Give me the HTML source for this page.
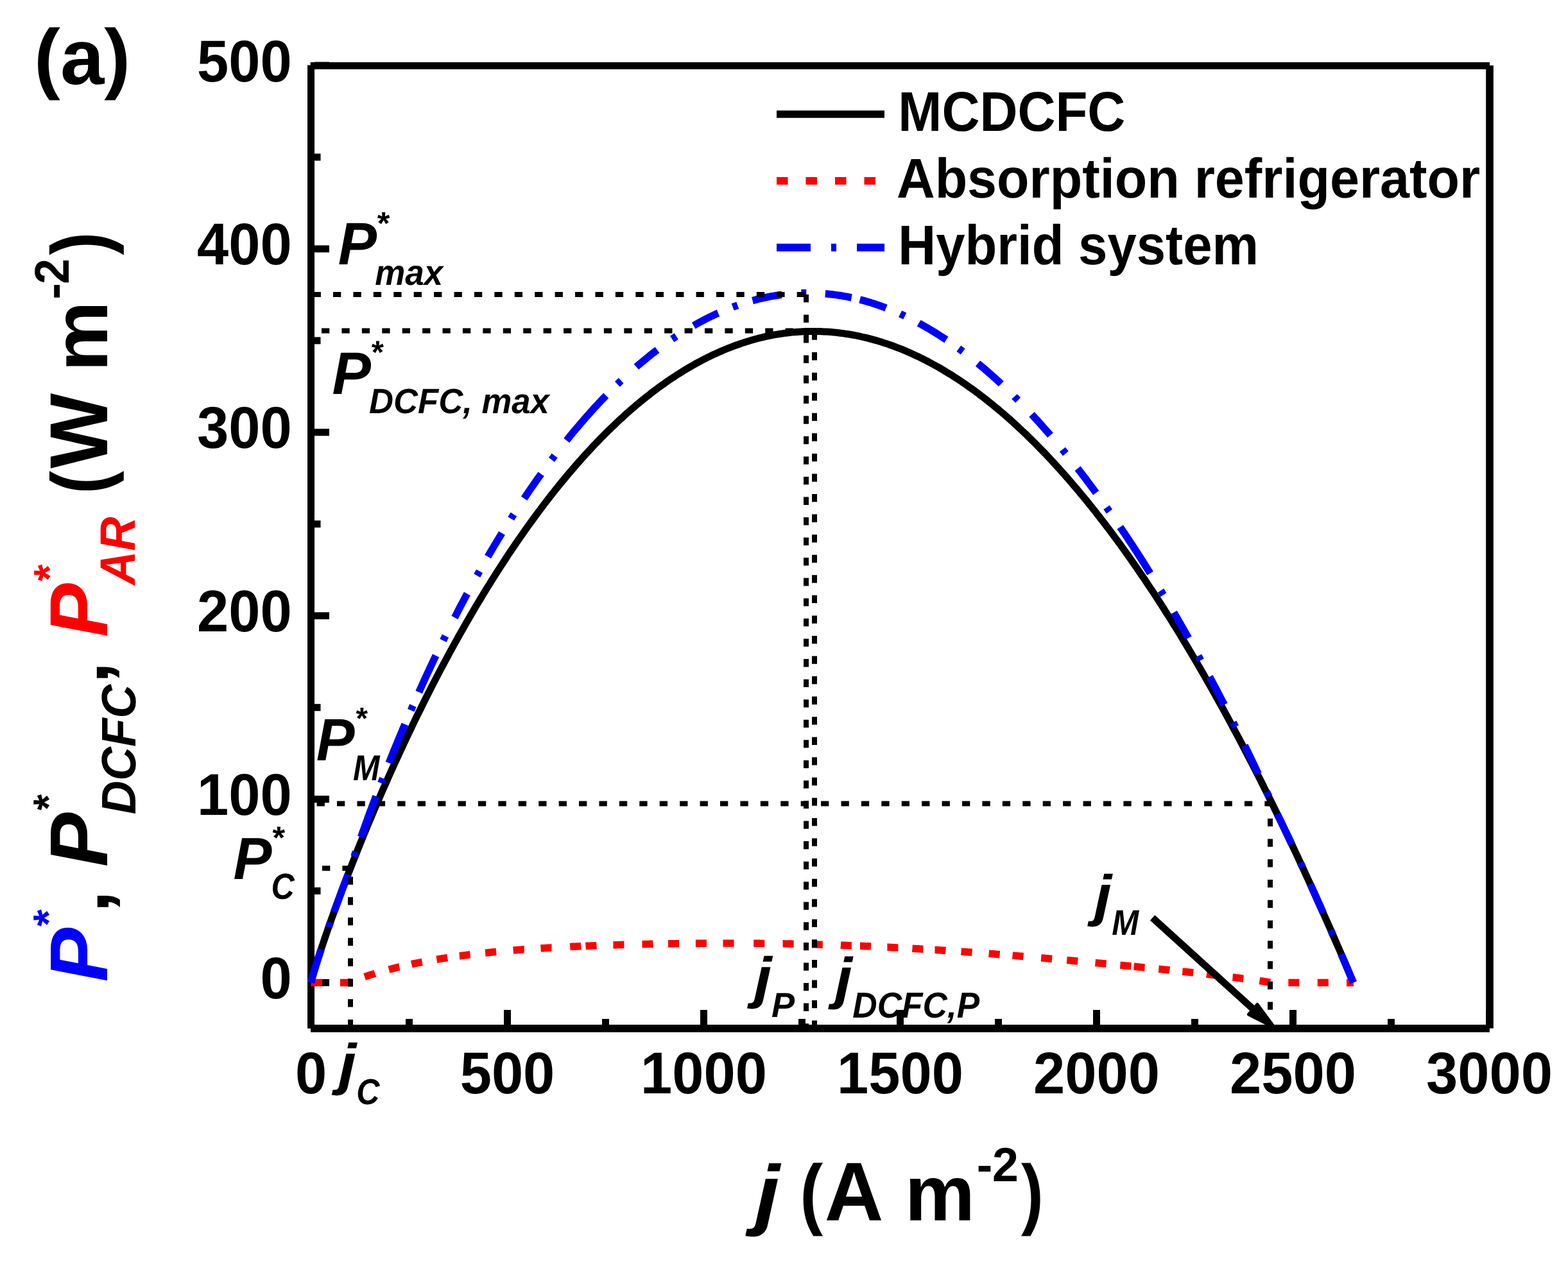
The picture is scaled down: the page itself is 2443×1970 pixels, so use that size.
<!DOCTYPE html><html><head><meta charset="utf-8"><title>Power density vs current density</title><style>html,body{margin:0;padding:0;background:#fff;}svg{display:block;}text{font-kerning:none;}</style></head><body>
<svg width="2443" height="1970" viewBox="0 0 2443 1970" font-family="Liberation Sans, Arial, Helvetica, sans-serif" font-weight="bold" text-rendering="geometricPrecision">
<rect width="2443" height="1970" fill="#fff"/>
<g stroke="#000" fill="none" stroke-linecap="butt">
<line x1="484.5" y1="101.5" x2="484.5" y2="1603" stroke-width="11"/>
<line x1="483.7" y1="102.5" x2="2321" y2="102.5" stroke-width="11"/>
<line x1="2321" y1="102" x2="2321" y2="1602.7" stroke-width="11.7"/>
<line x1="484" y1="1602.85" x2="2320.9" y2="1602.85" stroke-width="11.7"/>
<line x1="490" y1="1531.50" x2="513" y2="1531.50" stroke-width="11"/>
<line x1="490" y1="1245.60" x2="513" y2="1245.60" stroke-width="11"/>
<line x1="490" y1="959.70" x2="513" y2="959.70" stroke-width="11"/>
<line x1="490" y1="673.80" x2="513" y2="673.80" stroke-width="11"/>
<line x1="490" y1="387.90" x2="513" y2="387.90" stroke-width="11"/>
<line x1="490" y1="102.00" x2="513" y2="102.00" stroke-width="11"/>
<line x1="490" y1="1388.55" x2="499.5" y2="1388.55" stroke-width="11"/>
<line x1="490" y1="1102.65" x2="499.5" y2="1102.65" stroke-width="11"/>
<line x1="490" y1="816.75" x2="499.5" y2="816.75" stroke-width="11"/>
<line x1="490" y1="530.85" x2="499.5" y2="530.85" stroke-width="11"/>
<line x1="490" y1="244.95" x2="499.5" y2="244.95" stroke-width="11"/>
<line x1="484.50" y1="1597" x2="484.50" y2="1574" stroke-width="11"/>
<line x1="790.50" y1="1597" x2="790.50" y2="1574" stroke-width="11"/>
<line x1="1096.50" y1="1597" x2="1096.50" y2="1574" stroke-width="11"/>
<line x1="1402.50" y1="1597" x2="1402.50" y2="1574" stroke-width="11"/>
<line x1="1708.50" y1="1597" x2="1708.50" y2="1574" stroke-width="11"/>
<line x1="2014.50" y1="1597" x2="2014.50" y2="1574" stroke-width="11"/>
<line x1="2320.50" y1="1597" x2="2320.50" y2="1574" stroke-width="11"/>
<line x1="637.50" y1="1597" x2="637.50" y2="1588" stroke-width="11"/>
<line x1="943.50" y1="1597" x2="943.50" y2="1588" stroke-width="11"/>
<line x1="1249.50" y1="1597" x2="1249.50" y2="1588" stroke-width="11"/>
<line x1="1555.50" y1="1597" x2="1555.50" y2="1588" stroke-width="11"/>
<line x1="1861.50" y1="1597" x2="1861.50" y2="1588" stroke-width="11"/>
<line x1="2167.50" y1="1597" x2="2167.50" y2="1588" stroke-width="11"/>
</g>
<text transform="translate(405.41,1556.00) scale(1,1.037)" font-size="88.5">0</text>
<text transform="translate(306.97,1270.10) scale(1,1.037)" font-size="88.5">100</text>
<text transform="translate(306.97,984.20) scale(1,1.037)" font-size="88.5">200</text>
<text transform="translate(306.97,698.30) scale(1,1.037)" font-size="88.5">300</text>
<text transform="translate(306.97,412.40) scale(1,1.037)" font-size="88.5">400</text>
<text transform="translate(306.97,126.50) scale(1,1.037)" font-size="88.5">500</text>
<text transform="translate(484.50,1704) scale(1,1.037)" font-size="88.5" text-anchor="middle">0</text>
<text transform="translate(790.50,1704) scale(1,1.037)" font-size="88.5" text-anchor="middle">500</text>
<text transform="translate(1096.50,1704) scale(1,1.037)" font-size="88.5" text-anchor="middle">1000</text>
<text transform="translate(1402.50,1704) scale(1,1.037)" font-size="88.5" text-anchor="middle">1500</text>
<text transform="translate(1708.50,1704) scale(1,1.037)" font-size="88.5" text-anchor="middle">2000</text>
<text transform="translate(2014.50,1704) scale(1,1.037)" font-size="88.5" text-anchor="middle">2500</text>
<text transform="translate(2320.50,1704) scale(1,1.037)" font-size="88.5" text-anchor="middle">3000</text>
<path d="M484.5,1531.5 485.7,1526.7 486.9,1522.3 488.2,1518.0 489.4,1513.9 490.6,1509.8 491.8,1505.8 493.1,1501.9 494.3,1498.0 495.5,1494.2 496.7,1490.4 498.0,1486.6 499.2,1482.8 500.4,1479.1 501.6,1475.4 502.9,1471.8 504.1,1468.1 505.3,1464.5 506.5,1460.9 507.8,1457.3 509.0,1453.8 510.2,1450.2 511.4,1446.7 512.7,1443.2 513.9,1439.7 515.1,1436.3 516.3,1432.8 517.5,1429.4 518.8,1426.0 520.0,1422.6 521.2,1419.2 524.3,1410.8 528.0,1400.8 531.6,1390.9 535.3,1381.1 539.0,1371.5 542.6,1361.9 546.3,1352.4 550.0,1343.0 553.7,1333.7 557.3,1324.5 561.0,1315.4 564.7,1306.3 568.3,1297.4 572.0,1288.5 575.7,1279.7 579.4,1270.9 583.0,1262.2 586.7,1253.6 590.4,1245.1 594.0,1236.6 597.7,1228.2 601.4,1219.9 605.1,1211.6 608.7,1203.4 612.4,1195.3 616.1,1187.2 619.8,1179.2 623.4,1171.2 627.1,1163.3 630.8,1155.5 634.4,1147.7 638.1,1140.0 641.8,1132.3 645.5,1124.7 649.1,1117.2 652.8,1109.7 656.5,1102.3 660.1,1094.9 663.8,1087.6 667.5,1080.3 671.2,1073.1 674.8,1065.9 678.5,1058.8 682.2,1051.8 685.8,1044.8 689.5,1037.9 693.2,1031.0 696.9,1024.1 700.5,1017.3 704.2,1010.6 707.9,1003.9 711.6,997.3 715.2,990.7 718.9,984.2 722.6,977.7 726.2,971.3 729.9,964.9 733.6,958.6 737.3,952.3 740.9,946.1 744.6,939.9 748.3,933.8 751.9,927.7 755.6,921.7 759.3,915.7 763.0,909.8 766.6,903.9 770.3,898.1 774.0,892.3 777.6,886.6 781.3,880.9 785.0,875.2 788.7,869.6 792.3,864.1 796.0,858.6 799.7,853.1 803.4,847.7 807.0,842.4 810.7,837.1 814.4,831.8 818.0,826.6 821.7,821.4 825.4,816.3 829.1,811.2 832.7,806.2 836.4,801.2 840.1,796.3 843.7,791.4 847.4,786.5 851.1,781.7 854.8,776.9 858.4,772.2 862.1,767.6 865.8,762.9 869.4,758.4 873.1,753.8 876.8,749.4 880.5,744.9 884.1,740.5 887.8,736.2 891.5,731.9 895.2,727.6 898.8,723.4 902.5,719.2 906.2,715.1 909.8,711.0 913.5,706.9 917.2,702.9 920.9,699.0 924.5,695.1 928.2,691.2 931.9,687.4 935.5,683.6 939.2,679.9 942.9,676.2 946.6,672.5 950.2,668.9 953.9,665.4 957.6,661.9 961.2,658.4 964.9,654.9 968.6,651.6 972.3,648.2 975.9,644.9 979.6,641.7 983.3,638.4 987.0,635.3 990.6,632.1 994.3,629.1 998.0,626.0 1001.6,623.0 1005.3,620.1 1009.0,617.1 1012.7,614.3 1016.3,611.4 1020.0,608.6 1023.7,605.9 1027.3,603.2 1031.0,600.5 1034.7,597.9 1038.4,595.3 1042.0,592.8 1045.7,590.3 1049.4,587.9 1053.0,585.4 1056.7,583.1 1060.4,580.8 1064.1,578.5 1067.7,576.2 1071.4,574.0 1075.1,571.9 1078.8,569.8 1082.4,567.7 1086.1,565.7 1089.8,563.7 1093.4,561.7 1097.1,559.8 1100.8,557.9 1104.5,556.1 1108.1,554.3 1111.8,552.6 1115.5,550.9 1119.1,549.2 1122.8,547.6 1126.5,546.0 1130.2,544.5 1133.8,543.0 1137.5,541.6 1141.2,540.2 1144.8,538.8 1148.5,537.5 1152.2,536.2 1155.9,534.9 1159.5,533.7 1163.2,532.5 1166.9,531.4 1170.6,530.3 1174.2,529.3 1177.9,528.3 1181.6,527.3 1185.2,526.4 1188.9,525.5 1192.6,524.7 1196.3,523.9 1199.9,523.1 1203.6,522.4 1207.3,521.7 1210.9,521.1 1214.6,520.5 1218.3,520.0 1222.0,519.4 1225.6,519.0 1229.3,518.5 1233.0,518.1 1236.6,517.8 1240.3,517.5 1244.0,517.2 1247.7,517.0 1251.3,516.8 1255.0,516.6 1258.7,516.5 1262.4,516.4 1266.0,516.4 1269.7,516.4 1273.4,516.5 1277.0,516.6 1280.7,516.7 1284.4,516.9 1288.1,517.1 1291.7,517.3 1295.4,517.6 1299.1,517.9 1302.7,518.3 1306.4,518.7 1310.1,519.2 1313.8,519.6 1317.4,520.2 1321.1,520.7 1324.8,521.3 1328.4,522.0 1332.1,522.7 1335.8,523.4 1339.5,524.2 1343.1,525.0 1346.8,525.8 1350.5,526.7 1354.2,527.6 1357.8,528.6 1361.5,529.6 1365.2,530.6 1368.8,531.7 1372.5,532.8 1376.2,534.0 1379.9,535.2 1383.5,536.4 1387.2,537.7 1390.9,539.0 1394.5,540.4 1398.2,541.8 1401.9,543.2 1405.6,544.7 1409.2,546.2 1412.9,547.8 1416.6,549.4 1420.2,551.0 1423.9,552.7 1427.6,554.4 1431.3,556.1 1434.9,557.9 1438.6,559.7 1442.3,561.6 1446.0,563.5 1449.6,565.5 1453.3,567.5 1457.0,569.5 1460.6,571.5 1464.3,573.6 1468.0,575.8 1471.7,578.0 1475.3,580.2 1479.0,582.4 1482.7,584.7 1486.3,587.1 1490.0,589.4 1493.7,591.8 1497.4,594.3 1501.0,596.8 1504.7,599.3 1508.4,601.9 1512.0,604.5 1515.7,607.1 1519.4,609.8 1523.1,612.5 1526.7,615.3 1530.4,618.1 1534.1,620.9 1537.8,623.8 1541.4,626.7 1545.1,629.7 1548.8,632.7 1552.4,635.7 1556.1,638.8 1559.8,641.9 1563.5,645.0 1567.1,648.2 1570.8,651.4 1574.5,654.7 1578.1,658.0 1581.8,661.3 1585.5,664.7 1589.2,668.1 1592.8,671.6 1596.5,675.1 1600.2,678.6 1603.8,682.2 1607.5,685.8 1611.2,689.4 1614.9,693.1 1618.5,696.8 1622.2,700.6 1625.9,704.4 1629.6,708.2 1633.2,712.1 1636.9,716.0 1640.6,720.0 1644.2,724.0 1647.9,728.0 1651.6,732.1 1655.3,736.2 1658.9,740.3 1662.6,744.5 1666.3,748.7 1669.9,753.0 1673.6,757.3 1677.3,761.6 1681.0,766.0 1684.6,770.4 1688.3,774.8 1692.0,779.3 1695.6,783.8 1699.3,788.4 1703.0,793.0 1706.7,797.6 1710.3,802.3 1714.0,807.0 1717.7,811.8 1721.4,816.5 1725.0,821.4 1728.7,826.2 1732.4,831.1 1736.0,836.1 1739.7,841.1 1743.4,846.1 1747.1,851.1 1750.7,856.2 1754.4,861.3 1758.1,866.5 1761.7,871.7 1765.4,877.0 1769.1,882.2 1772.8,887.6 1776.4,892.9 1780.1,898.3 1783.8,903.7 1787.4,909.2 1791.1,914.7 1794.8,920.2 1798.5,925.8 1802.1,931.4 1805.8,937.1 1809.5,942.8 1813.2,948.5 1816.8,954.3 1820.5,960.1 1824.2,965.9 1827.8,971.8 1831.5,977.7 1835.2,983.7 1838.9,989.7 1842.5,995.7 1846.2,1001.8 1849.9,1007.9 1853.5,1014.0 1857.2,1020.2 1860.9,1026.4 1864.6,1032.7 1868.2,1039.0 1871.9,1045.3 1875.6,1051.7 1879.2,1058.1 1882.9,1064.5 1886.6,1071.0 1890.3,1077.5 1893.9,1084.1 1897.6,1090.7 1901.3,1097.3 1905.0,1103.9 1908.6,1110.6 1912.3,1117.4 1916.0,1124.2 1919.6,1131.0 1923.3,1137.8 1927.0,1144.7 1930.7,1151.6 1934.3,1158.6 1938.0,1165.6 1941.7,1172.6 1945.3,1179.7 1949.0,1186.8 1952.7,1194.0 1956.4,1201.2 1960.0,1208.4 1963.7,1215.6 1967.4,1222.9 1971.0,1230.3 1974.7,1237.6 1978.4,1245.1 1982.1,1252.5 1985.7,1260.0 1989.4,1267.5 1993.1,1275.1 1996.8,1282.6 2000.4,1290.3 2004.1,1297.9 2007.8,1305.6 2011.4,1313.4 2015.1,1321.2 2018.8,1329.0 2022.5,1336.8 2026.1,1344.7 2029.8,1352.6 2033.5,1360.6 2037.1,1368.6 2040.8,1376.6 2044.5,1384.7 2048.2,1392.8 2051.8,1401.0 2055.5,1409.1 2059.2,1417.4 2062.8,1425.6 2066.5,1433.9 2070.2,1442.2 2073.9,1450.6 2077.5,1459.0 2081.2,1467.5 2084.9,1475.9 2088.6,1484.4 2092.2,1493.0 2095.9,1501.6 2099.6,1510.2 2103.2,1518.9 2106.9,1527.6 2108.6,1531.5" fill="none" stroke="#000" stroke-width="11" stroke-linejoin="round"/>
<path d="M484.5,1531.5 485.7,1531.5 486.8,1531.5 488.0,1531.5 489.2,1531.5 490.3,1531.5 491.5,1531.5 492.7,1531.5 493.8,1531.5 495.0,1531.5 496.2,1531.5 497.3,1531.5 498.5,1531.5 499.7,1531.5 500.8,1531.5 502.0,1531.5 M530.0,1531.5 531.2,1531.5 532.4,1531.5 533.6,1531.5 534.9,1531.5 536.1,1531.5 537.3,1531.5 538.5,1531.5 539.7,1531.5 540.9,1531.5 542.1,1531.5 543.4,1531.5 544.6,1531.5 545.8,1530.2 547.0,1529.8 M2098.0,1531.5 2099.2,1531.5 2100.4,1531.5 2101.7,1531.5 2102.9,1531.5 2104.1,1531.5 2105.3,1531.5 2106.6,1531.5 2107.8,1531.5 2109.0,1531.5 M568.1,1522.3 569.3,1521.9 570.4,1521.6 571.6,1521.2 572.7,1520.8 573.9,1520.4 575.1,1520.1 576.2,1519.7 577.4,1519.3 578.5,1519.0 579.7,1518.6 580.8,1518.3 582.0,1517.9 583.2,1517.6 584.3,1517.2 M605.9,1511.1 607.0,1510.8 608.2,1510.5 609.4,1510.2 610.6,1509.9 611.8,1509.6 612.9,1509.3 614.1,1509.0 615.3,1508.7 616.5,1508.4 617.6,1508.1 618.8,1507.8 620.0,1507.5 621.2,1507.2 622.4,1507.0 M641.2,1502.7 642.4,1502.4 643.6,1502.2 644.7,1501.9 645.9,1501.7 647.1,1501.5 648.3,1501.2 649.5,1501.0 650.7,1500.7 651.9,1500.5 653.1,1500.3 654.3,1500.0 655.5,1499.8 656.6,1499.5 657.8,1499.3 M680.4,1495.3 681.6,1495.1 682.8,1494.9 684.0,1494.7 685.2,1494.5 686.4,1494.3 687.6,1494.1 688.8,1493.9 690.0,1493.7 691.2,1493.5 692.4,1493.3 693.6,1493.1 694.8,1492.9 696.0,1492.8 697.2,1492.6 M715.8,1489.9 717.0,1489.8 718.2,1489.6 719.4,1489.4 720.6,1489.3 721.8,1489.1 723.0,1489.0 724.2,1488.8 725.4,1488.7 726.6,1488.5 727.8,1488.4 729.0,1488.2 730.2,1488.1 731.4,1487.9 732.6,1487.8 M756.1,1485.1 757.4,1485.0 758.6,1484.8 759.8,1484.7 761.0,1484.6 762.2,1484.5 763.4,1484.3 764.6,1484.2 765.8,1484.1 767.0,1484.0 768.2,1483.9 769.4,1483.7 770.6,1483.6 771.9,1483.5 773.1,1483.4 M799.6,1481.1 800.8,1481.0 802.0,1480.9 803.3,1480.8 804.5,1480.7 805.7,1480.6 806.9,1480.5 808.1,1480.4 809.3,1480.3 810.5,1480.2 811.7,1480.1 812.9,1480.0 814.2,1479.9 815.4,1479.8 816.6,1479.8 M842.5,1478.0 843.7,1477.9 844.9,1477.8 846.2,1477.8 847.4,1477.7 848.6,1477.6 849.8,1477.5 851.0,1477.5 852.2,1477.4 853.4,1477.3 854.6,1477.3 855.8,1477.2 857.1,1477.1 858.3,1477.0 859.5,1477.0 M888.2,1475.5 889.4,1475.4 890.6,1475.4 891.8,1475.3 893.1,1475.2 894.3,1475.2 895.5,1475.1 896.7,1475.1 897.9,1475.0 899.1,1475.0 900.3,1474.9 901.6,1474.9 902.8,1474.8 904.0,1474.8 905.2,1474.7 M912.5,1474.4 913.7,1474.3 914.9,1474.3 916.1,1474.2 917.4,1474.2 918.6,1474.1 919.8,1474.1 921.0,1474.0 922.2,1474.0 923.4,1474.0 924.6,1473.9 925.9,1473.9 927.1,1473.8 928.3,1473.8 929.5,1473.7 M955.4,1472.8 956.6,1472.8 957.8,1472.7 959.0,1472.7 960.3,1472.7 961.5,1472.6 962.7,1472.6 963.9,1472.6 965.1,1472.5 966.3,1472.5 967.5,1472.5 968.8,1472.4 970.0,1472.4 971.2,1472.3 972.4,1472.3 M1000.5,1471.6 1001.7,1471.6 1002.9,1471.5 1004.1,1471.5 1005.4,1471.5 1006.6,1471.5 1007.8,1471.4 1009.0,1471.4 1010.2,1471.4 1011.4,1471.4 1012.6,1471.3 1013.9,1471.3 1015.1,1471.3 1016.3,1471.3 1017.5,1471.2 M1041.0,1470.8 1042.2,1470.8 1043.4,1470.8 1044.6,1470.8 1045.9,1470.7 1047.1,1470.7 1048.3,1470.7 1049.5,1470.7 1050.7,1470.7 1051.9,1470.6 1053.1,1470.6 1054.4,1470.6 1055.6,1470.6 1056.8,1470.6 1058.0,1470.6 M1083.9,1470.3 1085.1,1470.3 1086.3,1470.3 1087.5,1470.3 1088.8,1470.3 1090.0,1470.2 1091.2,1470.2 1092.4,1470.2 1093.6,1470.2 1094.8,1470.2 1096.0,1470.2 1097.3,1470.2 1098.5,1470.2 1099.7,1470.2 1100.9,1470.2 M1126.5,1470.1 1127.7,1470.1 1128.9,1470.1 1130.1,1470.1 1131.4,1470.1 1132.6,1470.1 1133.8,1470.1 1135.0,1470.1 1136.2,1470.1 1137.4,1470.1 1138.6,1470.1 1139.9,1470.1 1141.1,1470.1 1142.3,1470.1 1143.5,1470.1 M1174.2,1470.3 1175.4,1470.3 1176.6,1470.3 1177.8,1470.3 1179.1,1470.3 1180.3,1470.3 1181.5,1470.3 1182.7,1470.3 1183.9,1470.3 1185.1,1470.4 1186.3,1470.4 1187.6,1470.4 1188.8,1470.4 1190.0,1470.4 1191.2,1470.4 M1219.6,1470.8 1220.8,1470.8 1222.0,1470.9 1223.2,1470.9 1224.5,1470.9 1225.7,1470.9 1226.9,1470.9 1228.1,1471.0 1229.3,1471.0 1230.5,1471.0 1231.7,1471.0 1233.0,1471.1 1234.2,1471.1 1235.4,1471.1 1236.6,1471.1 M1264.8,1471.8 1266.0,1471.8 1267.2,1471.8 1268.4,1471.9 1269.7,1471.9 1270.9,1471.9 1272.1,1472.0 1273.3,1472.0 1274.5,1472.0 1275.7,1472.1 1276.9,1472.1 1278.2,1472.1 1279.4,1472.2 1280.6,1472.2 1281.8,1472.2 M1309.9,1473.1 1311.1,1473.2 1312.3,1473.2 1313.5,1473.3 1314.8,1473.3 1316.0,1473.3 1317.2,1473.4 1318.4,1473.4 1319.6,1473.5 1320.8,1473.5 1322.0,1473.6 1323.3,1473.6 1324.5,1473.6 1325.7,1473.7 1326.9,1473.7 M1340.0,1474.3 1341.2,1474.3 1342.4,1474.4 1343.6,1474.4 1344.9,1474.5 1346.1,1474.5 1347.3,1474.6 1348.5,1474.6 1349.7,1474.7 1350.9,1474.7 1352.1,1474.8 1353.4,1474.8 1354.6,1474.9 1355.8,1474.9 1357.0,1475.0 M1382.4,1476.2 1383.6,1476.2 1384.8,1476.3 1386.0,1476.4 1387.3,1476.4 1388.5,1476.5 1389.7,1476.5 1390.9,1476.6 1392.1,1476.7 1393.3,1476.7 1394.5,1476.8 1395.8,1476.9 1397.0,1476.9 1398.2,1477.0 1399.4,1477.0 M1421.4,1478.2 1422.6,1478.3 1423.8,1478.4 1425.1,1478.5 1426.3,1478.5 1427.5,1478.6 1428.7,1478.7 1429.9,1478.7 1431.1,1478.8 1432.3,1478.9 1433.5,1479.0 1434.7,1479.0 1436.0,1479.1 1437.2,1479.2 1438.4,1479.2 M1456.5,1480.4 1457.7,1480.4 1458.9,1480.5 1460.2,1480.6 1461.4,1480.7 1462.6,1480.7 1463.8,1480.8 1465.0,1480.9 1466.2,1481.0 1467.4,1481.1 1468.6,1481.1 1469.8,1481.2 1471.1,1481.3 1472.3,1481.4 1473.5,1481.5 M1497.5,1483.1 1498.7,1483.2 1499.9,1483.3 1501.2,1483.4 1502.4,1483.4 1503.6,1483.5 1504.8,1483.6 1506.0,1483.7 1507.2,1483.8 1508.4,1483.9 1509.6,1484.0 1510.8,1484.0 1512.1,1484.1 1513.3,1484.2 1514.5,1484.3 M1540.7,1486.3 1541.9,1486.4 1543.1,1486.5 1544.4,1486.5 1545.6,1486.6 1546.8,1486.7 1548.0,1486.8 1549.2,1486.9 1550.4,1487.0 1551.6,1487.1 1552.8,1487.2 1554.0,1487.3 1555.3,1487.4 1556.5,1487.5 1557.7,1487.6 M1577.5,1489.2 1578.7,1489.3 1579.9,1489.4 1581.2,1489.5 1582.4,1489.6 1583.6,1489.7 1584.8,1489.8 1586.0,1489.9 1587.2,1490.0 1588.4,1490.1 1589.6,1490.2 1590.8,1490.3 1592.1,1490.4 1593.3,1490.5 1594.5,1490.6 M1622.1,1492.9 1623.3,1493.0 1624.6,1493.1 1625.8,1493.2 1627.0,1493.3 1628.2,1493.4 1629.4,1493.6 1630.6,1493.7 1631.8,1493.8 1633.0,1493.9 1634.2,1494.0 1635.4,1494.1 1636.6,1494.2 1637.9,1494.3 1639.1,1494.4 M1662.2,1496.5 1663.4,1496.6 1664.7,1496.7 1665.9,1496.8 1667.1,1496.9 1668.3,1497.0 1669.5,1497.1 1670.7,1497.2 1671.9,1497.3 1673.1,1497.4 1674.3,1497.6 1675.5,1497.7 1676.7,1497.8 1678.0,1497.9 1679.2,1498.0 M1706.5,1500.5 1707.7,1500.6 1709.0,1500.8 1710.2,1500.9 1711.4,1501.0 1712.6,1501.1 1713.8,1501.2 1715.0,1501.3 1716.2,1501.4 1717.4,1501.6 1718.6,1501.7 1719.8,1501.8 1721.0,1501.9 1722.3,1502.0 1723.5,1502.1 M1745.3,1504.2 1746.5,1504.3 1747.8,1504.5 1749.0,1504.6 1750.2,1504.7 1751.4,1504.8 1752.6,1504.9 1753.8,1505.1 1755.0,1505.2 1756.2,1505.3 1757.4,1505.4 1758.6,1505.5 1759.8,1505.6 1761.1,1505.8 1762.3,1505.9 M1766.5,1506.3 1767.7,1506.4 1769.0,1506.5 1770.2,1506.7 1771.4,1506.8 1772.6,1506.9 1773.8,1507.0 1775.0,1507.1 1776.2,1507.3 1777.4,1507.4 1778.6,1507.5 1779.8,1507.6 1781.0,1507.7 1782.2,1507.9 1783.5,1508.0 M1805.3,1510.2 1806.6,1510.3 1807.8,1510.5 1809.0,1510.6 1810.2,1510.7 1811.4,1510.8 1812.6,1511.0 1813.8,1511.1 1815.0,1511.2 1816.2,1511.3 1817.4,1511.5 1818.6,1511.6 1819.8,1511.7 1821.0,1511.8 1822.3,1512.0 M1842.3,1514.1 1843.6,1514.2 1844.8,1514.3 1846.0,1514.5 1847.2,1514.6 1848.4,1514.7 1849.6,1514.9 1850.8,1515.0 1852.0,1515.1 1853.2,1515.3 1854.4,1515.4 1855.6,1515.5 1856.8,1515.7 1858.0,1515.8 1859.2,1515.9 M1880.0,1518.2 1881.2,1518.4 1882.4,1518.5 1883.6,1518.7 1884.8,1518.8 1886.0,1518.9 1887.2,1519.1 1888.4,1519.2 1889.6,1519.4 1890.8,1519.5 1892.0,1519.6 1893.2,1519.8 1894.4,1519.9 1895.6,1520.1 1896.8,1520.2 M1920.5,1523.1 1921.7,1523.2 1922.9,1523.4 1924.1,1523.5 1925.3,1523.7 1926.5,1523.8 1927.7,1524.0 1928.9,1524.1 1930.1,1524.3 1931.3,1524.4 1932.5,1524.6 1933.7,1524.8 1934.9,1524.9 1936.1,1525.1 1937.3,1525.2 M1962.4,1528.6 1963.6,1528.8 1964.8,1528.9 1965.9,1529.1 1967.1,1529.3 1968.3,1529.4 1969.5,1529.6 1970.7,1529.8 1971.9,1530.0 1973.1,1530.1 1974.2,1530.3 1975.4,1530.5 1976.6,1530.7 1977.8,1530.8 1979.0,1531.0 M2007.3,1531.5 2008.5,1531.5 2009.7,1531.5 2010.9,1531.5 2012.2,1531.5 2013.4,1531.5 2014.6,1531.5 2015.8,1531.5 2017.0,1531.5 2018.2,1531.5 2019.4,1531.5 2020.7,1531.5 2021.9,1531.5 2023.1,1531.5 2024.3,1531.5 M2052.8,1531.5 2054.0,1531.5 2055.2,1531.5 2056.4,1531.5 2057.7,1531.5 2058.9,1531.5 2060.1,1531.5 2061.3,1531.5 2062.5,1531.5 2063.7,1531.5 2064.9,1531.5 2066.2,1531.5 2067.4,1531.5 2068.6,1531.5 2069.8,1531.5" fill="none" stroke="#f00" stroke-width="11.4" stroke-linecap="butt"/>
<path d="M484.5,1531.5 485.7,1526.7 486.9,1522.3 488.1,1518.1 489.4,1514.0 490.6,1510.0 491.8,1506.0 493.0,1502.1 494.2,1498.2 495.4,1494.4 496.7,1490.6 497.9,1486.9 499.1,1483.1 500.3,1479.5 M520.4,1421.4 521.6,1418.1 522.8,1414.8 524.0,1411.4 525.2,1408.1 526.5,1404.8 527.7,1401.5 528.9,1398.3 530.1,1395.0 531.3,1391.8 532.5,1388.5 533.7,1385.3 534.9,1382.1 536.1,1378.9 537.4,1375.7 538.6,1372.5 539.8,1369.3 541.0,1366.2 542.2,1363.0 M562.4,1304.7 563.6,1301.4 564.7,1298.1 565.9,1294.9 567.1,1291.6 568.2,1288.4 569.4,1285.2 570.6,1281.9 571.8,1278.7 572.9,1275.5 574.1,1272.3 575.3,1269.2 576.4,1266.0 577.6,1262.8 578.8,1259.7 579.9,1256.5 581.1,1253.4 582.3,1250.3 583.5,1247.2 584.6,1244.1 585.8,1241.0 M606.0,1189.1 607.2,1186.1 608.4,1183.2 609.6,1180.2 610.7,1177.3 611.9,1174.4 613.1,1171.4 614.3,1168.5 615.5,1165.6 616.7,1162.7 617.9,1159.9 619.0,1157.0 620.2,1154.1 621.4,1151.2 622.6,1148.4 623.8,1145.6 625.0,1142.7 626.2,1139.9 627.3,1137.1 628.5,1134.3 629.7,1131.5 630.9,1128.7 M652.7,1078.7 653.9,1076.0 655.1,1073.4 656.3,1070.7 657.5,1068.1 658.7,1065.4 659.9,1062.8 661.1,1060.2 662.3,1057.6 663.5,1054.9 664.7,1052.3 665.9,1049.7 667.1,1047.2 668.3,1044.6 669.5,1042.0 670.7,1039.4 671.9,1036.9 673.1,1034.3 674.3,1031.8 675.5,1029.2 676.7,1026.7 677.9,1024.2 679.1,1021.7 M708.3,962.6 709.5,960.4 710.6,958.1 711.8,955.9 712.9,953.7 714.1,951.5 715.2,949.2 716.4,947.0 717.5,944.8 718.7,942.6 719.8,940.4 721.0,938.3 722.1,936.1 723.3,933.9 724.4,931.7 725.6,929.6 726.7,927.4 727.9,925.3 M760.1,867.6 761.3,865.5 762.5,863.4 763.8,861.3 765.0,859.3 766.2,857.2 767.4,855.1 768.6,853.1 769.8,851.0 771.0,849.0 772.3,847.0 773.5,844.9 774.7,842.9 775.9,840.9 777.1,838.9 778.4,836.9 779.6,834.9 780.8,832.9 782.0,830.9 M816.6,776.9 817.8,775.1 819.0,773.3 820.2,771.5 821.4,769.7 822.6,768.0 823.8,766.2 825.0,764.4 826.2,762.7 827.4,760.9 828.6,759.2 829.9,757.4 831.1,755.7 832.3,754.0 833.5,752.3 834.7,750.5 835.9,748.8 837.1,747.1 838.3,745.4 839.5,743.7 840.7,742.0 841.9,740.4 843.1,738.7 M882.7,686.5 883.9,685.0 885.1,683.5 886.3,682.0 887.5,680.5 888.7,679.0 889.9,677.6 891.1,676.1 892.3,674.6 893.5,673.2 894.7,671.7 895.9,670.3 897.2,668.8 898.4,667.4 899.6,666.0 900.8,664.6 902.0,663.1 903.2,661.7 904.4,660.3 905.6,658.9 906.8,657.5 908.0,656.1 909.2,654.7 910.4,653.3 M910.4,653.3 911.6,652.0 912.8,650.6 914.0,649.2 915.2,647.8 916.5,646.5 917.7,645.1 918.9,643.7 920.1,642.4 921.3,641.0 922.5,639.7 923.7,638.4 924.9,637.0 926.1,635.7 927.3,634.4 928.6,633.1 929.8,631.8 931.0,630.5 932.2,629.2 933.4,627.9 934.6,626.6 935.8,625.3 937.0,624.0 938.2,622.8 939.5,621.5 940.7,620.2 941.9,619.0 943.1,617.7 944.3,616.5 M991.4,571.8 992.6,570.7 993.8,569.7 995.0,568.7 996.2,567.6 997.4,566.6 998.6,565.6 999.9,564.6 1001.1,563.6 1002.3,562.6 1003.5,561.6 1004.7,560.6 1005.9,559.6 1007.1,558.6 1008.3,557.6 1009.5,556.6 1010.7,555.6 1011.9,554.7 1013.1,553.7 1014.3,552.7 1015.5,551.8 1016.8,550.8 1018.0,549.9 1019.2,549.0 1020.4,548.0 1021.6,547.1 1022.8,546.2 1024.0,545.3 M1080.7,507.5 1081.9,506.8 1083.1,506.1 1084.3,505.4 1085.5,504.8 1086.7,504.1 1087.9,503.4 1089.1,502.8 1090.3,502.1 1091.5,501.5 1092.7,500.9 1093.9,500.2 1095.1,499.6 1096.3,499.0 1097.5,498.3 1098.7,497.7 1099.8,497.1 1101.0,496.5 1102.2,495.9 1103.4,495.3 1104.6,494.7 1105.8,494.1 1107.0,493.5 1108.2,492.9 1109.4,492.4 1110.6,491.8 1111.8,491.2 1113.0,490.7 1114.2,490.1 1115.4,489.5 1116.6,489.0 1117.8,488.4 1119.0,487.9 M1172.5,468.5 1173.7,468.2 1174.9,467.9 1176.1,467.6 1177.3,467.2 1178.5,466.9 1179.7,466.6 1180.9,466.3 1182.1,466.0 1183.3,465.7 1184.5,465.5 1185.7,465.2 1186.9,464.9 1188.1,464.6 1189.3,464.3 1190.5,464.1 1191.7,463.8 1192.9,463.6 1194.1,463.3 1195.2,463.1 1196.4,462.8 1197.6,462.6 1198.8,462.4 1200.0,462.1 1201.2,461.9 1202.4,461.7 1203.6,461.5 1204.8,461.3 1206.0,461.1 1207.2,460.9 1208.4,460.7 1209.6,460.5 1210.8,460.3 1212.0,460.1 1213.2,459.9 1214.4,459.8 1215.6,459.6 1216.8,459.4 1218.0,459.3 M1285.8,457.8 1287.0,457.9 1288.2,458.0 1289.4,458.1 1290.6,458.2 1291.8,458.3 1293.0,458.5 1294.2,458.6 1295.4,458.7 1296.6,458.9 1297.8,459.0 1299.0,459.2 1300.2,459.3 1301.4,459.5 1302.6,459.7 1303.8,459.8 1305.0,460.0 1306.2,460.2 1307.5,460.4 1308.7,460.5 1309.9,460.7 1311.1,460.9 1312.3,461.1 1313.5,461.3 1314.7,461.6 1315.9,461.8 1317.1,462.0 1318.3,462.2 1319.5,462.4 1320.7,462.7 1321.9,462.9 1323.1,463.2 1324.3,463.4 1325.5,463.7 1326.7,463.9 M1339.7,467.0 1340.9,467.3 1342.1,467.6 1343.3,467.9 1344.5,468.2 1345.7,468.6 1346.9,468.9 1348.1,469.2 1349.3,469.6 1350.5,469.9 1351.7,470.3 1352.9,470.6 1354.1,471.0 1355.3,471.3 1356.5,471.7 1357.7,472.1 1358.9,472.4 1360.1,472.8 1361.3,473.2 1362.5,473.6 1363.7,474.0 1364.9,474.4 1366.1,474.8 1367.3,475.2 1368.5,475.6 1369.7,476.0 1370.9,476.5 1372.1,476.9 1373.3,477.3 1374.5,477.8 1375.7,478.2 1376.9,478.6 1378.1,479.1 1379.3,479.5 1380.5,480.0 M1431.6,503.6 1432.8,504.3 1434.0,505.0 1435.3,505.6 1436.5,506.3 1437.7,507.0 1438.9,507.7 1440.2,508.4 1441.4,509.1 1442.6,509.8 1443.8,510.5 1445.1,511.2 1446.3,511.9 1447.5,512.6 1448.7,513.4 1449.9,514.1 1451.2,514.8 1452.4,515.6 1453.6,516.3 1454.8,517.0 1456.1,517.8 1457.3,518.6 1458.5,519.3 1459.7,520.1 1460.9,520.9 1462.2,521.6 1463.4,522.4 1464.6,523.2 1465.8,524.0 1467.1,524.8 1468.3,525.6 1469.5,526.4 1470.7,527.2 1472.0,528.0 1473.2,528.8 1474.4,529.6 M1523.5,566.3 1524.7,567.3 1525.9,568.3 1527.1,569.3 1528.3,570.4 1529.5,571.4 1530.8,572.4 1532.0,573.4 1533.2,574.4 1534.4,575.5 1535.6,576.5 1536.8,577.5 1538.0,578.6 1539.2,579.6 1540.4,580.7 1541.6,581.8 1542.9,582.8 1544.1,583.9 1545.3,585.0 1546.5,586.0 1547.7,587.1 1548.9,588.2 1550.1,589.3 1551.3,590.4 1552.5,591.5 1553.8,592.6 1555.0,593.7 1556.2,594.8 1557.4,595.9 1558.6,597.0 1559.8,598.2 M1607.5,645.9 1608.7,647.2 1609.9,648.5 1611.1,649.9 1612.3,651.2 1613.5,652.5 1614.8,653.8 1616.0,655.1 1617.2,656.4 1618.4,657.8 1619.6,659.1 1620.8,660.5 1622.0,661.8 1623.2,663.2 1624.4,664.5 1625.6,665.9 1626.8,667.2 1628.0,668.6 1629.2,670.0 1630.5,671.3 1631.7,672.7 1632.9,674.1 1634.1,675.5 1635.3,676.9 1636.5,678.3 M1679.0,730.1 1680.2,731.6 1681.4,733.2 1682.6,734.7 1683.8,736.3 1685.0,737.8 1686.2,739.4 1687.4,740.9 1688.6,742.5 1689.8,744.1 1691.0,745.6 1692.2,747.2 1693.4,748.8 1694.5,750.4 1695.7,752.0 1696.9,753.6 1698.1,755.2 1699.3,756.8 1700.5,758.4 1701.7,760.0 1702.9,761.6 1704.1,763.2 1705.3,764.8 1706.5,766.5 1707.7,768.1 M1745.2,821.3 1746.4,823.1 1747.6,824.9 1748.8,826.7 1750.0,828.5 1751.3,830.3 1752.5,832.1 1753.7,833.9 1754.9,835.7 1756.1,837.5 1757.3,839.3 1758.5,841.2 1759.7,843.0 1760.9,844.8 1762.2,846.7 1763.4,848.5 1764.6,850.4 1765.8,852.2 1767.0,854.1 M1767.0,854.1 1768.2,855.9 1769.4,857.8 1770.6,859.6 1771.8,861.5 1773.0,863.3 1774.2,865.2 1775.4,867.0 1776.6,868.9 1777.8,870.8 1779.0,872.6 1780.1,874.5 1781.3,876.4 1782.5,878.3 1783.7,880.2 1784.9,882.1 1786.1,884.0 1787.3,885.9 1788.5,887.8 1789.7,889.7 1790.9,891.6 1792.1,893.5 M1828.8,954.5 1830.0,956.6 1831.2,958.6 1832.4,960.7 1833.6,962.8 1834.8,964.8 1836.0,966.9 1837.2,969.0 1838.4,971.1 1839.6,973.2 1840.8,975.3 1842.0,977.4 1843.2,979.5 1844.4,981.6 1845.6,983.7 1846.8,985.8 1848.0,988.0 1849.2,990.1 1850.4,992.2 1851.6,994.4 M1884.6,1054.8 1885.8,1057.0 1887.0,1059.3 1888.2,1061.5 1889.4,1063.8 1890.6,1066.1 1891.8,1068.4 1893.0,1070.6 1894.2,1072.9 1895.4,1075.2 1896.6,1077.5 1897.8,1079.8 1899.0,1082.1 1900.2,1084.4 1901.4,1086.8 1902.6,1089.1 1903.8,1091.4 1905.0,1093.7 1906.2,1096.0 1907.4,1098.4 M1939.1,1161.7 1940.3,1164.1 1941.5,1166.5 1942.7,1169.0 1943.9,1171.4 1945.0,1173.9 1946.2,1176.3 1947.4,1178.8 1948.6,1181.3 1949.8,1183.7 1951.0,1186.2 1952.2,1188.7 1953.4,1191.2 1954.6,1193.7 1955.7,1196.1 1956.9,1198.6 1958.1,1201.1 1959.3,1203.6 1960.5,1206.2 M1989.9,1268.5 1991.1,1270.9 1992.3,1273.4 1993.5,1275.8 1994.6,1278.3 1995.8,1280.7 1997.0,1283.2 1998.2,1285.6 1999.4,1288.1 2000.6,1290.6 2001.7,1293.0 2002.9,1295.5 2004.1,1298.0 2005.3,1300.5 2006.5,1302.9 2007.7,1305.4 2008.8,1307.9 2010.0,1310.4 2011.2,1312.9 2012.4,1315.4 M2041.4,1377.9 2042.6,1380.5 2043.8,1383.1 2044.9,1385.7 2046.1,1388.3 2047.3,1390.9 2048.5,1393.5 2049.6,1396.1 2050.8,1398.7 2052.0,1401.3 2053.2,1403.9 2054.3,1406.6 2055.5,1409.2 2056.7,1411.8 2057.9,1414.4 2059.0,1417.1 2060.2,1419.7 2061.4,1422.4 M2089.7,1487.1 2090.9,1489.9 2092.1,1492.6 2093.2,1495.3 2094.4,1498.1 2095.6,1500.8 2096.8,1503.6 2097.9,1506.3 2099.1,1509.1 2100.3,1511.9 2101.4,1514.6 2102.6,1517.4 2103.8,1520.2 2105.0,1523.0 2106.2,1525.8 2107.3,1528.5 2108.5,1531.3 M512.0,1445.1 512.9,1442.6 513.7,1440.1 514.6,1437.6 M551.8,1335.0 552.7,1332.4 553.5,1329.9 554.4,1327.4 M593.7,1220.5 594.6,1218.0 595.6,1215.5 596.6,1213.0 M640.2,1107.0 641.3,1104.6 642.3,1102.1 643.4,1099.7 M690.4,998.3 691.6,995.9 692.8,993.5 694.0,991.1 M743.2,897.2 744.2,895.5 745.2,893.7 746.2,892.0 747.2,890.2 M796.1,808.4 797.1,806.7 798.2,805.0 799.3,803.3 800.4,801.6 M859.4,716.5 860.6,714.9 861.8,713.3 863.0,711.7 864.2,710.1 M961.9,598.9 963.1,597.8 964.2,596.6 965.4,595.5 966.5,594.4 967.7,593.3 M1047.2,528.5 1048.3,527.8 1049.4,527.0 1050.5,526.3 1051.6,525.5 1052.7,524.8 1053.8,524.1 M1141.7,478.5 1142.8,478.1 1143.9,477.7 1145.0,477.3 1146.0,477.0 1147.1,476.6 1148.2,476.2 1149.3,475.8 M1248.3,456.8 1249.4,456.8 1250.6,456.7 1251.7,456.7 1252.9,456.7 1254.0,456.7 1255.2,456.6 1256.3,456.6 M1402.6,489.2 1403.8,489.8 1405.0,490.3 1406.2,490.9 1407.4,491.4 1408.6,492.0 1409.8,492.6 M1493.8,543.2 1494.9,544.0 1495.9,544.8 1497.0,545.6 1498.1,546.4 1499.1,547.2 1500.2,548.0 M1580.5,618.0 1581.6,619.2 1582.7,620.3 1583.9,621.4 1585.0,622.6 1586.1,623.7 M1655.4,700.6 1656.4,701.9 1657.4,703.1 1658.4,704.3 1659.4,705.6 1660.4,706.8 M1724.0,790.7 1725.1,792.3 1726.3,794.0 1727.4,795.6 1728.6,797.2 M1808.5,920.4 1809.6,922.1 1810.6,923.8 1811.6,925.5 1812.7,927.2 M1867.0,1022.1 1867.9,1023.9 1868.9,1025.6 1869.9,1027.4 1870.8,1029.1 M1921.3,1125.8 1922.5,1128.1 1923.7,1130.5 1924.9,1132.9 M1973.5,1233.9 1974.6,1236.3 1975.8,1238.8 1976.9,1241.2 M2026.0,1344.5 2027.1,1346.9 2028.3,1349.3 2029.4,1351.7 M2073.4,1449.5 2074.5,1452.0 2075.5,1454.4 2076.6,1456.9" fill="none" stroke="#00f" stroke-width="11.4" stroke-linecap="butt"/>
<g stroke="#000" stroke-width="8" stroke-linecap="butt">
<line x1="484.5" y1="458.9" x2="1260.0" y2="458.9" stroke-dasharray="12.3 19.12" stroke-dashoffset="28.34"/>
<line x1="484.5" y1="515.4" x2="1269.0" y2="515.4" stroke-dasharray="12.3 19.12" stroke-dashoffset="14.92"/>
<line x1="484.5" y1="1252.4" x2="1983.0" y2="1252.4" stroke-dasharray="12.3 19.12" stroke-dashoffset="22.34"/>
<line x1="484.5" y1="1353.3" x2="550.0" y2="1353.3" stroke-dasharray="12.3 19.12" stroke-dashoffset="13.92"/>
<line x1="1256.0" y1="454.9" x2="1256.0" y2="1597.0" stroke-dasharray="12.3 19.26" stroke-dashoffset="27.46"/>
<line x1="1269.0" y1="515.4" x2="1269.0" y2="1597.0" stroke-dasharray="12.3 19.26" stroke-dashoffset="29.42"/>
<line x1="546.0" y1="1353.3" x2="546.0" y2="1597.0" stroke-dasharray="12.3 19.50" stroke-dashoffset="18.70"/>
<line x1="1979.0" y1="1252.4" x2="1979.0" y2="1597.0" stroke-dasharray="12.3 19.45" stroke-dashoffset="8.45"/>
</g>
<line x1="1795.6" y1="1430.4" x2="1958" y2="1577.7" stroke="#000" stroke-width="11"/>
<polygon points="1945.5,1581 1959,1565.5 1985.5,1601.5" fill="#000" stroke="#000" stroke-width="5" stroke-linejoin="round"/>
<line x1="1210" y1="178" x2="1378" y2="178" stroke="#000" stroke-width="11.7"/>
<line x1="1210" y1="281.8" x2="1378" y2="281.8" stroke="#f00" stroke-width="11.7" stroke-dasharray="17.5 28"/>
<line x1="1210" y1="385.8" x2="1378" y2="385.8" stroke="#00f" stroke-width="12" stroke-dasharray="53 32 8 32"/>
<text transform="translate(1399.33,203.90) scale(1,1.0674)" font-size="81.71"  fill="#000">MCDCFC</text>
<text transform="translate(1396.94,308.00) scale(1,1.0568)" font-size="82.66"  fill="#000">Absorption refrigerator</text>
<text transform="translate(1399.35,411.80) scale(1,1.0716)" font-size="81.52"  fill="#000">Hybrid system</text>
<text transform="translate(52.98,131.42) scale(1,0.9956)" font-size="122.84"  fill="#000">(a)</text>
<text transform="translate(526.81,411.70) scale(1,1.0346)" font-size="90.34" font-style="italic" fill="#000">P</text>
<text transform="translate(587.65,365.19) scale(1,0.9876)" font-size="50.62"  fill="#000">*</text>
<text transform="translate(584.30,443.50) scale(1,1.0509)" font-size="52.92" font-style="italic" fill="#000">max</text>
<text transform="translate(517.41,613.80) scale(1,1.0294)" font-size="90.65" font-style="italic" fill="#000">P</text>
<text transform="translate(578.86,565.99) scale(1,1.0136)" font-size="49.32"  fill="#000">*</text>
<text transform="translate(575.08,644.20) scale(1,1.0443)" font-size="52.61" font-style="italic" fill="#000">DCFC, max</text>
<text transform="translate(492.72,1185.00) scale(1,1.0384)" font-size="89.72" font-style="italic" fill="#000">P</text>
<text transform="translate(554.46,1136.10) scale(1,1.0073)" font-size="47.76"  fill="#000">*</text>
<text transform="translate(550.02,1216.40) scale(1,1.1203)" font-size="49.82" font-style="italic" fill="#000">M</text>
<text transform="translate(363.52,1369.70) scale(1,1.0316)" font-size="90.03" font-style="italic" fill="#000">P</text>
<text transform="translate(424.45,1322.07) scale(1,0.9660)" font-size="50.36"  fill="#000">*</text>
<text transform="translate(422.46,1401.45) scale(1,1.1340)" font-size="50.07" font-style="italic" fill="#000">C</text>
<text transform="translate(1174.66,1554.49) scale(1,0.8858)" font-size="100.16" font-style="italic" fill="#000">j</text>
<text transform="translate(1202.05,1585.00) scale(1,0.9998)" font-size="54.08" font-style="italic" fill="#000">P</text>
<text transform="translate(1300.85,1555.32) scale(1,0.9070)" font-size="98.17" font-style="italic" fill="#000">j</text>
<text transform="translate(1328.37,1586.00) scale(1,1.0588)" font-size="53.13" font-style="italic" fill="#000">DCFC,P</text>
<text transform="translate(1704.80,1426.17) scale(1,0.9002)" font-size="98.67" font-style="italic" fill="#000">j</text>
<text transform="translate(1732.32,1457.00) scale(1,1.1068)" font-size="50.30" font-style="italic" fill="#000">M</text>
<text transform="translate(527.53,1689.29) scale(1,0.8880)" font-size="99.91" font-style="italic" fill="#000">j</text>
<text transform="translate(555.36,1721.35) scale(1,1.1284)" font-size="50.07" font-style="italic" fill="#000">C</text>
<text transform="translate(1176.25,1901.63) scale(1,0.8818)" font-size="139.18" font-style="italic" fill="#000">j</text>
<text transform="translate(1246.24,1901.32) scale(1,1.1354)" font-size="107.71"  fill="#000">(</text>
<text transform="translate(1284.84,1902.00) scale(1,1.0233)" font-size="126.84"  fill="#000">A</text>
<text transform="translate(1409.70,1902.00) scale(1,0.9977)" font-size="122.83"  fill="#000">m</text>
<text transform="translate(1521.63,1840.90) scale(1,1.0217)" font-size="73.45"  fill="#000">-2</text>
<text transform="translate(1591.10,1901.32) scale(1,1.1701)" font-size="104.53"  fill="#000">)</text>
<text transform="translate(167.10,1530.43) rotate(-90) scale(1,1.0068)" font-size="126.91" font-style="italic" fill="#00f">P</text>
<text transform="translate(98.47,1444.00) rotate(-90) scale(1,0.9724)" font-size="68.27"  fill="#00f">*</text>
<text transform="translate(168.51,1422.54) rotate(-90) scale(1,0.9186)" font-size="125.82"  fill="#000">,</text>
<text transform="translate(167.10,1351.23) rotate(-90) scale(1,1.0055)" font-size="127.06" font-style="italic" fill="#000">P</text>
<text transform="translate(98.47,1262.99) rotate(-90) scale(1,1.0313)" font-size="64.37"  fill="#000">*</text>
<text transform="translate(211.00,1269.28) rotate(-90) scale(1,1.0355)" font-size="72.89" font-style="italic" fill="#000">DCFC</text>
<text transform="translate(168.16,1065.25) rotate(-90) scale(1,0.9475)" font-size="121.62"  fill="#000">,</text>
<text transform="translate(166.90,993.01) rotate(-90) scale(1,1.0188)" font-size="125.83" font-style="italic" fill="#f00">P</text>
<text transform="translate(99.68,906.00) rotate(-90) scale(1,1.0076)" font-size="67.49"  fill="#f00">*</text>
<text transform="translate(210.20,911.40) rotate(-90) scale(1,1.0576)" font-size="73.25" font-style="italic" fill="#f00">AR</text>
<text transform="translate(167.02,769.68) rotate(-90) scale(1,1.1496)" font-size="108.07"  fill="#000">(</text>
<text transform="translate(167.10,729.92) rotate(-90) scale(1,1.0309)" font-size="124.22"  fill="#000">W</text>
<text transform="translate(167.10,578.94) rotate(-90) scale(1,0.9759)" font-size="123.48"  fill="#000">m</text>
<text transform="translate(107.82,466.83) rotate(-90) scale(1,0.9628)" font-size="77.59"  fill="#000">-</text>
<text transform="translate(106.90,442.66) rotate(-90) scale(1,1.0665)" font-size="71.04"  fill="#000">2</text>
<text transform="translate(167.07,397.50) rotate(-90) scale(1,1.1591)" font-size="107.36"  fill="#000">)</text>
</svg></body></html>
